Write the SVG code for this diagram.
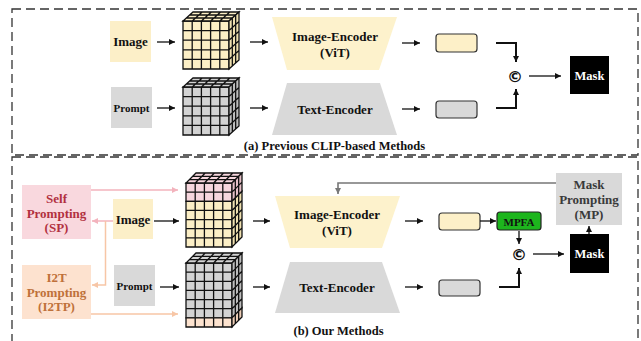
<svg xmlns="http://www.w3.org/2000/svg" xmlns:xlink="http://www.w3.org/1999/xlink" width="641" height="341" viewBox="0 0 641 341">
<style>
.t{font-family:"Liberation Serif","Times New Roman",serif;font-weight:bold;text-anchor:middle;fill:#111}
.g{stroke:#111;stroke-width:1.3;vector-effect:non-scaling-stroke;stroke-linejoin:miter}
.a{fill:none;stroke:#111;stroke-width:1.3}
.e{fill:none;stroke:#111;stroke-width:2}
.dash{fill:none;stroke:#333;stroke-width:1.3;stroke-dasharray:9 5}
.y{fill:#fcefc6}.yd{fill:#efe0b0}
.gr{fill:#d3d3d3}.grd{fill:#bdbdbd}
.pk{fill:#f6d6dd}.pkd{fill:#e6c0c8}
.pe{fill:#fde3cf}.ped{fill:#eccdb6}
.rr{stroke:#333;stroke-width:1.2}
.c{font-family:"DejaVu Sans",sans-serif;font-weight:bold;text-anchor:middle;fill:#111;font-size:16px}
</style>
<defs>
<marker id="ah" viewBox="0 0 6 6" refX="6" refY="3" markerWidth="6" markerHeight="6" markerUnits="userSpaceOnUse" orient="auto"><path d="M0,0L6,3L0,6z" fill="#111"/></marker>
<marker id="ahp" viewBox="0 0 6 6" refX="6" refY="3" markerWidth="6" markerHeight="6" markerUnits="userSpaceOnUse" orient="auto"><path d="M0,0L6,3L0,6z" fill="#f3b3bd"/></marker>
<marker id="ahe" viewBox="0 0 6 6" refX="6" refY="3" markerWidth="6" markerHeight="6" markerUnits="userSpaceOnUse" orient="auto"><path d="M0,0L6,3L0,6z" fill="#f7c6a6"/></marker>
<marker id="ahg" viewBox="0 0 6 6" refX="6" refY="3" markerWidth="6" markerHeight="6" markerUnits="userSpaceOnUse" orient="auto"><path d="M0,0L6,3L0,6z" fill="#777"/></marker>
<path id="g55" class="g" d="M0 0H5V5H0Z M1 0V5 M2 0V5 M3 0V5 M4 0V5 M0 1H5 M0 2H5 M0 3H5 M0 4H5"/>
<path id="g53" class="g" d="M0 0H5V3H0Z M1 0V3 M2 0V3 M3 0V3 M4 0V3 M0 1H5 M0 2H5"/>
<path id="g35" class="g" d="M0 0H3V5H0Z M1 0V5 M2 0V5 M0 1H3 M0 2H3 M0 3H3 M0 4H3"/>
<path id="g52" class="g" d="M0 0H5V2H0Z M1 0V2 M2 0V2 M3 0V2 M4 0V2 M0 1H5"/>
<path id="g32" class="g" d="M0 0H3V2H0Z M1 0V2 M2 0V2 M0 1H3"/>
<path id="g56" class="g" d="M0 0H5V6H0Z M1 0V6 M2 0V6 M3 0V6 M4 0V6 M0 1H5 M0 2H5 M0 3H5 M0 4H5 M0 5H5"/>
<path id="g36" class="g" d="M0 0H3V6H0Z M1 0V6 M2 0V6 M0 1H3 M0 2H3 M0 3H3 M0 4H3 M0 5H3"/>
<path id="g51" class="g" d="M0 0H5V1H0Z M1 0V1 M2 0V1 M3 0V1 M4 0V1"/>
<path id="g31" class="g" d="M0 0H3V1H0Z M1 0V1 M2 0V1"/>
</defs>

<rect class="dash" x="12" y="9" width="626" height="146"/>
<rect class="dash" x="12" y="157" width="626" height="195"/>

<!-- Top panel -->
<g id="img-a"><rect x="110" y="21" width="41" height="41" fill="#fcefc8"/><text class="t" x="130.5" y="46" font-size="13">Image</text></g>
<g id="prompt-a"><rect x="111" y="87" width="41" height="41" fill="#d9d9d9"/><text class="t" x="131.5" y="112" font-size="11">Prompt</text></g>
<g id="cube-a1">
<use href="#g55" class="y" transform="matrix(9.2,0,0,9.6,183,21)"/>
<use href="#g53" class="y" transform="matrix(9.2,0,-3.333,3,193,12)"/>
<use href="#g35" class="yd" transform="matrix(3.333,-3,0,9.6,229,21)"/>
</g>
<g id="cube-a2">
<use href="#g55" class="gr" transform="matrix(9.2,0,0,9.6,183,87)"/>
<use href="#g53" class="gr" transform="matrix(9.2,0,-3.333,3,193,78)"/>
<use href="#g35" class="grd" transform="matrix(3.333,-3,0,9.6,229,87)"/>
</g>
<g id="ienc-a"><polygon points="272,17 397,17 379,70 287,70" fill="#fdf2cc"/><text class="t" x="335" y="41" font-size="13">Image-Encoder</text><text class="t" x="335" y="57" font-size="13">(ViT)</text></g>
<g id="tenc-a"><polygon points="287,83 380,83 397,135 272,135" fill="#d9d9d9"/><text class="t" x="335" y="114" font-size="13">Text-Encoder</text></g>
<g id="feat-a1"><rect class="rr" x="436" y="34" width="41" height="18" rx="3" fill="#fdf0c8"/></g>
<g id="feat-a2"><rect class="rr" x="436" y="101" width="41" height="17" rx="3" fill="#d9d9d9"/></g>
<g id="concat-a"><text class="c" x="515" y="82">©</text></g>
<g id="mask-a"><rect x="570" y="56" width="39" height="38" fill="#000"/><text class="t" x="589.5" y="79.5" font-size="12.5" style="fill:#fff">Mask</text></g>
<text class="t" x="334.5" y="150" font-size="12.5">(a) Previous CLIP-based Methods</text>

<!-- Bottom panel -->
<g id="sp"><rect x="22" y="185" width="69" height="54" fill="#f9d8de"/>
<text class="t" x="56.5" y="203" font-size="13" style="fill:#b2303f">Self</text>
<text class="t" x="56.5" y="217.5" font-size="13" style="fill:#b2303f">Prompting</text>
<text class="t" x="56.5" y="232" font-size="13" style="fill:#b2303f">(SP)</text></g>
<g id="i2tp"><rect x="22" y="265" width="69" height="54" fill="#fde2cf"/>
<text class="t" x="56.5" y="282" font-size="13" style="fill:#bf713a">I2T</text>
<text class="t" x="56.5" y="296.5" font-size="13" style="fill:#bf713a">Prompting</text>
<text class="t" x="56.5" y="311" font-size="13" style="fill:#bf713a">(I2TP)</text></g>
<g id="img-b"><rect x="113" y="199" width="40" height="40" fill="#fcefc8"/><text class="t" x="133" y="224" font-size="13">Image</text></g>
<g id="prompt-b"><rect x="114" y="265" width="41" height="41" fill="#d9d9d9"/><text class="t" x="134.5" y="290" font-size="11">Prompt</text></g>
<g id="cube-b1">
<use href="#g52" class="pk" transform="matrix(9.2,0,0,9.143,186,183)"/>
<use href="#g55" class="y" transform="matrix(9.2,0,0,9.143,186,201.29)"/>
<use href="#g53" class="pk" transform="matrix(9.2,0,-3.333,3.333,196,173)"/>
<use href="#g32" class="pkd" transform="matrix(3.333,-3.333,0,9.143,232,183)"/>
<use href="#g35" class="yd" transform="matrix(3.333,-3.333,0,9.143,232,201.29)"/>
</g>
<g id="cube-b2">
<use href="#g56" class="gr" transform="matrix(9.2,0,0,9.143,186,263)"/>
<use href="#g51" class="pe" transform="matrix(9.2,0,0,9.143,186,317.86)"/>
<use href="#g53" class="gr" transform="matrix(9.2,0,-3.333,3.333,196,253)"/>
<use href="#g36" class="grd" transform="matrix(3.333,-3.333,0,9.143,232,263)"/>
<use href="#g31" class="ped" transform="matrix(3.333,-3.333,0,9.143,232,317.86)"/>
</g>
<g id="ienc-b"><polygon points="275,196 400,196 382,248 290,248" fill="#fdf2cc"/><text class="t" x="337" y="219" font-size="13">Image-Encoder</text><text class="t" x="337" y="235" font-size="13">(ViT)</text></g>
<g id="tenc-b"><polygon points="290,262 382,262 400,313 275,313" fill="#d9d9d9"/><text class="t" x="337" y="292" font-size="13">Text-Encoder</text></g>
<g id="feat-b1"><rect class="rr" x="439" y="213" width="41" height="17" rx="3" fill="#fdf0c8"/></g>
<g id="feat-b2"><rect class="rr" x="439" y="280" width="41" height="16" rx="3" fill="#d9d9d9"/></g>
<g id="mpfa"><rect x="497" y="212" width="44" height="18" rx="3" fill="#1db51d" stroke="#222" stroke-width="1.2"/><text class="t" x="519" y="225.5" font-size="11">MPFA</text></g>
<g id="concat-b"><text class="c" x="519" y="260">©</text></g>
<g id="mask-b"><rect x="570" y="234" width="39" height="39" fill="#000"/><text class="t" x="589.5" y="258" font-size="12.5" style="fill:#fff">Mask</text></g>
<g id="mp"><rect x="556" y="173" width="66" height="52" fill="#d9d9d9"/>
<text class="t" x="589" y="189" font-size="13" style="fill:#3a3a3a">Mask</text>
<text class="t" x="589" y="204" font-size="13" style="fill:#3a3a3a">Prompting</text>
<text class="t" x="589" y="218.5" font-size="13" style="fill:#3a3a3a">(MP)</text></g>
<text class="t" x="338.5" y="335" font-size="12.5">(b) Our Methods</text>

<g id="connectors">
<path class="a" d="M157,42H175" marker-end="url(#ah)"/>
<path class="a" d="M157,108H175" marker-end="url(#ah)"/>
<path class="a" d="M250,42H268" marker-end="url(#ah)"/>
<path class="a" d="M250,108H268" marker-end="url(#ah)"/>
<path class="a" d="M402,43H420" marker-end="url(#ah)"/>
<path class="a" d="M402,109H420" marker-end="url(#ah)"/>
<path class="e" d="M496,43H516V62" marker-end="url(#ah)"/>
<path class="e" d="M496,108H516V89" marker-end="url(#ah)"/>
<path class="a" d="M529,76H561" marker-end="url(#ah)"/>

<path fill="none" stroke="#f3b3bd" stroke-width="1.5" d="M91,190H178" marker-end="url(#ahp)"/>
<path fill="none" stroke="#f3b3bd" stroke-width="1.5" d="M113,221H92" marker-end="url(#ahp)"/>
<path fill="none" stroke="#f7c6a6" stroke-width="1.5" d="M105.5,221V285H92" marker-end="url(#ahe)"/>
<path fill="none" stroke="#f7c6a6" stroke-width="1.5" d="M91,314H178" marker-end="url(#ahe)"/>
<path class="a" d="M154,221H179" marker-end="url(#ah)"/>
<path class="a" d="M160,287H179" marker-end="url(#ah)"/>
<path class="a" d="M253,221H270" marker-end="url(#ah)"/>
<path class="a" d="M253,287H270" marker-end="url(#ah)"/>
<path class="a" d="M405,221H423" marker-end="url(#ah)"/>
<path class="a" d="M405,287H423" marker-end="url(#ah)"/>
<path class="a" d="M480,221H496" marker-end="url(#ah)"/>
<path class="a" d="M519,231V244" marker-end="url(#ah)"/>
<path class="e" d="M499,287H519V268" marker-end="url(#ah)"/>
<path class="a" d="M533,254H564" marker-end="url(#ah)"/>
<path class="a" d="M589,234V226" marker-end="url(#ah)"/>
<path fill="none" stroke="#777" stroke-width="1.6" d="M556,183H338V194" marker-end="url(#ahg)"/>
</g>
</svg>
